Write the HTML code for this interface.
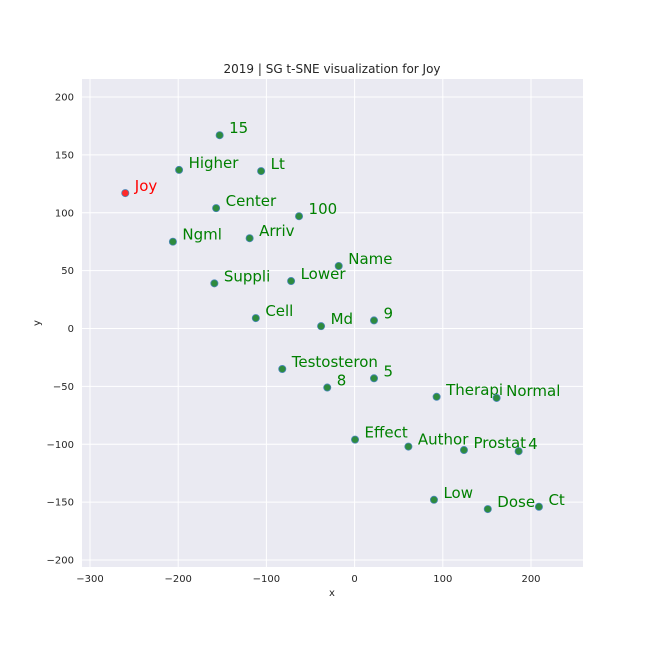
<!DOCTYPE html>
<html><head><meta charset="utf-8"><style>
body{margin:0;background:#fff}
svg{font-family:"DejaVu Sans","Liberation Sans",sans-serif}
</style></head><body>
<svg width="648" height="648" viewBox="0 0 648 648">
<rect x="0" y="0" width="648" height="648" fill="#fff"/>
<rect x="82" y="79" width="501" height="488" fill="#eaeaf2"/>
<g id="grid"></g>
<g id="ticks" font-size="10" fill="#262626"></g>
<g id="pts"></g>
<text x="332" y="73" text-anchor="middle" font-size="12" fill="#262626">2019 | SG t-SNE visualization for Joy</text>
<text x="332" y="596" text-anchor="middle" font-size="10" fill="#262626">x</text>
<text x="40" y="323" text-anchor="middle" font-size="10" fill="#262626" transform="rotate(-90 40 323)">y</text>
</svg>
<script>
const labels=["Joy","15","Higher","Lt","Center","100","Ngml","Arriv","Name","Suppli","Lower","Cell","Md","9","Testosteron","8","5","Therapi","Normal","Effect","Author","Prostat","4","Low","Dose","Ct"];
const xs=[-260,-153,-199,-106,-157,-63,-206,-119,-18,-159,-72,-112,-38,22,-82,-31,22,93,161,0.5,61,124,186,90,151,209];
const ys=[117,167,137,136,104,97,75,78,54,39,41,9,2,7,-35,-51,-43,-59,-60,-96,-102,-105,-106,-148,-156,-154];
const xTicks=[-300,-200,-100,0,100,200];
const yTicks=[-200,-150,-100,-50,0,50,100,150,200];
const sx=v=>354.6+v*0.882;
const sy=v=>328.5-v*1.1575;
const NS="http://www.w3.org/2000/svg";
const grid=document.getElementById('grid'),tk=document.getElementById('ticks'),pts=document.getElementById('pts');
function mk(tag,at,parent){const e=document.createElementNS(NS,tag);for(const k in at)e.setAttribute(k,at[k]);parent.appendChild(e);return e;}
xTicks.forEach(v=>{
 const l=mk('line',{x1:sx(v),x2:sx(v),y1:79,y2:567,stroke:'#fff','stroke-width':1},grid);
 
 
 const t=mk('text',{x:sx(v),y:582,'text-anchor':'middle'},tk);
 t.textContent=(v<0?'\u2212'+(-v):v);
 
 
});
yTicks.forEach(v=>{
 const l=mk('line',{x1:82,x2:583,y1:sy(v),y2:sy(v),stroke:'#fff','stroke-width':1},grid);
 
 
 const t=mk('text',{x:74,y:sy(v)+3.5,'text-anchor':'end'},tk);
 t.textContent=(v<0?'\u2212'+(-v):v);
 
 
});
labels.forEach((lab,i)=>{
 const c=i===0?'#ff2a2a':'#2e8b3e';
 const p=mk('circle',{cx:sx(xs[i]),cy:sy(ys[i]),r:3.6,fill:c,stroke:'#4a87b8','stroke-width':0.8},pts);
 
 
 const t=mk('text',{x:sx(xs[i])+9.5,y:sy(ys[i])-2,'font-size':15,fill:i===0?'#ff0000':'#008000'},pts);
 t.textContent=lab;
 
 
});
</script>
</body></html>
